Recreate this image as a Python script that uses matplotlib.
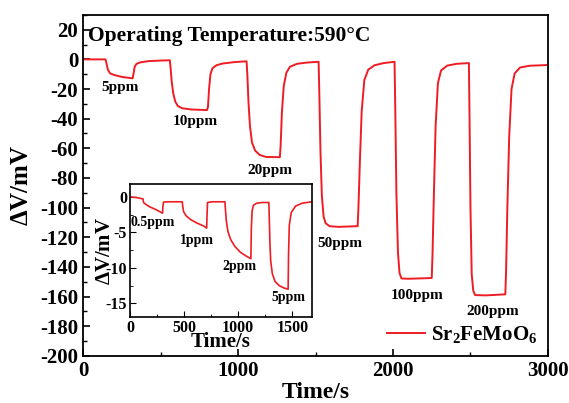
import matplotlib
matplotlib.use('Agg')
import matplotlib.pyplot as plt
from matplotlib.ticker import MultipleLocator

plt.rcParams['font.family'] = 'Liberation Serif'
plt.rcParams['font.weight'] = 'bold'
plt.rcParams['axes.unicode_minus'] = False
plt.rcParams['mathtext.fontset'] = 'custom'
plt.rcParams['mathtext.rm'] = 'Liberation Serif:bold'
plt.rcParams['mathtext.bf'] = 'Liberation Serif:bold'

# main response curve (time s, dV mV)
time_main = [0, 145, 152, 160, 175, 200, 250, 320, 325, 333, 345, 370, 420, 500, 560,
             565, 572, 582, 595, 612, 640, 700, 800, 806, 813, 822, 835, 860, 900, 980, 1055,
             1060, 1067, 1077, 1090, 1110, 1140, 1180, 1270, 1275, 1283, 1295, 1312, 1335, 1380, 1440, 1520,
             1525, 1532, 1541, 1552, 1565, 1590, 1650, 1772, 1777, 1786, 1798, 1815, 1840, 1880, 1940, 2010,
             2015, 2022, 2032, 2042, 2055, 2100, 2250, 2255, 2263, 2275, 2290, 2310, 2350, 2410, 2490,
             2494, 2500, 2508, 2518, 2530, 2600, 2725, 2730, 2738, 2750, 2765, 2785, 2820, 2880, 3000]
dv_main = [0, 0, -3, -7, -9.5, -10.5, -11.8, -12.8, -10, -5, -3, -2, -1.2, -0.8, -0.6,
           -6, -15, -23, -28.5, -31.5, -33, -33.8, -34.2, -32, -20, -10, -6, -4, -2.8, -1.8, -1.3,
           -10, -28, -45, -56, -61.5, -64.5, -65.8, -66, -58, -36, -18, -9, -5, -3, -2.2, -1.6,
           -25, -62, -92, -106, -110.5, -112.5, -113, -112.5, -100, -70, -35, -14, -7, -4, -2.5, -1.6,
           -35, -90, -130, -144, -147.8, -148, -147.5, -132, -95, -45, -16, -7.5, -4.2, -3, -2.5,
           -40, -100, -145, -156, -159, -159.2, -158.5, -142, -100, -52, -20, -9.5, -5.5, -4.3, -3.8]

# inset: low concentrations
time_ins = [0, 60, 120, 125, 140, 180, 240, 300, 305, 310, 350, 420, 483,
            487, 495, 520, 560, 620, 680, 708, 712, 716, 760, 820, 877,
            882, 890, 905, 930, 970, 1020, 1070, 1117, 1121, 1128, 1140, 1170, 1220, 1283,
            1287, 1293, 1300, 1315, 1340, 1380, 1420, 1461, 1465, 1472, 1490, 1530, 1590, 1680]
dv_ins = [0, -0.1, -0.3, -0.8, -1.0, -1.4, -1.8, -2.3, -1.2, -0.75, -0.7, -0.7, -0.7,
          -1.3, -2.1, -2.7, -3.2, -3.7, -4.1, -4.4, -2.5, -0.8, -0.7, -0.7, -0.7,
          -1.8, -3.4, -4.9, -6.0, -7.0, -7.8, -8.3, -8.7, -4.5, -2.0, -1.2, -0.9, -0.8, -0.8,
          -3.0, -6.5, -9.0, -10.8, -11.9, -12.5, -12.8, -13.0, -8.0, -4.0, -2.2, -1.3, -0.9, -0.7]

labels_main = ['5ppm', '10ppm', '20ppm', '50ppm', '100ppm', '200ppm']
lab_t = [239, 722, 1206, 1658, 2154, 2645]
lab_v = [-19, -42, -75, -124, -159, -170]

labels_ins = ['0.5ppm', '1ppm', '2ppm', '5ppm']
ilab_t = [212, 618, 1015, 1460]
ilab_v = [-3.6, -6.2, -9.8, -14.2]

fig = plt.figure(figsize=(5.69, 4.03), dpi=100)
ax = fig.add_axes([0.146, 0.117, 0.817, 0.846])
ax.plot(time_main, dv_main, color='#ee1c24', lw=1.4, label=r'$\mathregular{Sr_2FeMoO_6}$')
ax.set_xlim(0, 3000)
ax.set_ylim(-200, 30)
ax.xaxis.set_major_locator(MultipleLocator(1000))
ax.xaxis.set_minor_locator(MultipleLocator(500))
ax.yaxis.set_major_locator(MultipleLocator(20))
ax.yaxis.set_minor_locator(MultipleLocator(10))
ax.tick_params(which='both', direction='in', labelsize=15)
ax.tick_params(which='major', length=5, width=1.2)
ax.tick_params(which='minor', length=3, width=1)
for s in ax.spines.values():
    s.set_linewidth(1.3)
ax.set_xlabel('Time/s', fontsize=17, fontweight='bold', labelpad=1)
ax.set_ylabel(r'$\Delta$V/mV', fontsize=18, fontweight='bold', labelpad=5)
ax.text(30, 16, 'Operating Temperature:590°C', fontsize=15.5, fontweight='bold', va='center')
for lb, t, v in zip(labels_main, lab_t, lab_v):
    ax.text(t, v, lb, fontsize=11, fontweight='bold', ha='center', va='center')
ax.legend(loc='lower right', frameon=False, fontsize=15, handlelength=1.8,
          borderaxespad=0.1, handletextpad=0.3)

ins = fig.add_axes([0.2285, 0.2134, 0.3195, 0.33])
ins.plot(time_ins, dv_ins, color='#ee1c24', lw=1.2)
ins.set_xlim(0, 1680)
ins.set_ylim(-16.9, 1.8)
ins.xaxis.set_major_locator(MultipleLocator(500))
ins.xaxis.set_minor_locator(MultipleLocator(250))
ins.yaxis.set_major_locator(MultipleLocator(5))
ins.yaxis.set_minor_locator(MultipleLocator(2.5))
ins.tick_params(which='both', direction='in', labelsize=11.5, pad=2)
ins.tick_params(which='major', length=4)
ins.tick_params(which='minor', length=2)
for s in ins.spines.values():
    s.set_linewidth(1.2)
ins.set_xlabel('Time/s', fontsize=15, fontweight='bold', labelpad=-3)
ins.set_ylabel(r'$\Delta$V/mV', fontsize=15, fontweight='bold', labelpad=-7)
for lb, t, v in zip(labels_ins, ilab_t, ilab_v):
    ins.text(t, v, lb, fontsize=10, fontweight='bold', ha='center', va='center')

fig.savefig('out.png', dpi=100)
